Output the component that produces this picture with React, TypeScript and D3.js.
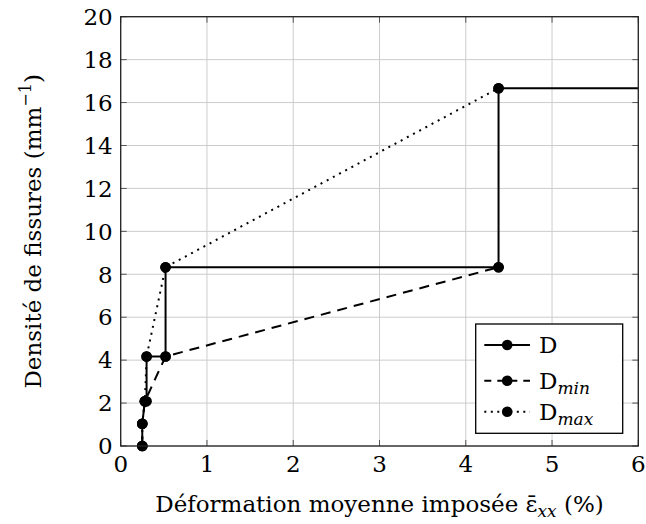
import React from "react";
import * as d3 from "d3";

const xTicks = [0, 1, 2, 3, 4, 5, 6];
const yTicks = [0, 2, 4, 6, 8, 10, 12, 14, 16, 18, 20];

const dX = [0.25, 0.25, 0.28, 0.3, 0.3, 0.52, 0.52, 4.38, 4.38, 6.2];
const dY = [0, 1.04, 2.08, 2.08, 4.17, 4.17, 8.33, 8.33, 16.67, 16.67];

const dminX = [0.25, 0.25, 0.28, 0.52, 4.38];
const dminY = [0, 1.04, 2.08, 4.17, 8.33];

const dmaxX = [0.25, 0.25, 0.28, 0.3, 0.52, 4.38];
const dmaxY = [0, 1.04, 2.08, 4.17, 8.33, 16.67];

const W = 646, H = 524;
const left = 120.7, right = 638.3, top = 16.7, bottom = 446;
const FONT = "DejaVu Serif";
const FS = 23;

export default function App() {
  const x = d3.scaleLinear().domain([0, 6]).range([left, right]);
  const y = d3.scaleLinear().domain([0, 20]).range([bottom, top]);
  const line = d3.line<[number, number]>().x(d => x(d[0])).y(d => y(d[1]));
  const zip = (a: number[], b: number[]) => a.map((v, i) => [v, b[i]] as [number, number]);
  const series = [
    { pts: zip(dX, dY), dash: "none", w: 2 },
    { pts: zip(dminX, dminY), dash: "10,7", w: 2 },
    { pts: zip(dmaxX, dmaxY), dash: "2,5", w: 2 },
  ];
  const legendRows = [
    { sub: "", dash: "none", y: 345 },
    { sub: "min", dash: "7,6", y: 380.7 },
    { sub: "max", dash: "2,4.5", y: 411.7 },
  ];
  return (
    <svg width={W} height={H} style={{ position: "absolute", left: 0, top: 0 }} fontFamily={FONT}>
      <defs>
        <clipPath id="clip"><rect x={left} y={top} width={right - left} height={bottom - top} /></clipPath>
      </defs>
      {xTicks.map(t => (
        <line key={"gx" + t} x1={x(t)} x2={x(t)} y1={top} y2={bottom} stroke="#cccccc" strokeWidth={1} />
      ))}
      {yTicks.map(t => (
        <line key={"gy" + t} x1={left} x2={right} y1={y(t)} y2={y(t)} stroke="#cccccc" strokeWidth={1} />
      ))}
      {xTicks.map(t => (
        <g key={"tx" + t}>
          <line x1={x(t)} x2={x(t)} y1={bottom} y2={bottom - 6} stroke="#555" strokeWidth={1} />
          <line x1={x(t)} x2={x(t)} y1={top} y2={top + 6} stroke="#555" strokeWidth={1} />
          <text x={x(t)} y={472} textAnchor="middle" fontSize={FS}>{t}</text>
        </g>
      ))}
      {yTicks.map(t => (
        <g key={"ty" + t}>
          <line x1={left} x2={left + 6} y1={y(t)} y2={y(t)} stroke="#555" strokeWidth={1} />
          <line x1={right} x2={right - 6} y1={y(t)} y2={y(t)} stroke="#555" strokeWidth={1} />
          <text x={left - 8} y={y(t)} dy="0.36em" textAnchor="end" fontSize={FS}>{t}</text>
        </g>
      ))}
      <g clipPath="url(#clip)">
        {series.map((s, i) => (
          <path key={"s" + i} d={line(s.pts) || ""} fill="none" stroke="#000" strokeWidth={s.w} strokeDasharray={s.dash} />
        ))}
      </g>
      {series.map((s, i) => (
        <g key={"m" + i}>
          {s.pts.filter(p => p[0] <= 6).map((p, j) => (
            <circle key={j} cx={x(p[0])} cy={y(p[1])} r={5.3} fill="#000" />
          ))}
        </g>
      ))}
      <rect x={left} y={top} width={right - left} height={bottom - top} fill="none" stroke="#222" strokeWidth={1.3} />
      <g>
        <rect x={475.7} y={324} width={147} height={109.3} fill="#fff" stroke="#000" strokeWidth={1.3} />
        {legendRows.map((r, i) => (
          <g key={"l" + i}>
            <line x1={484.3} x2={530} y1={r.y} y2={r.y} stroke="#000" strokeWidth={2} strokeDasharray={r.dash} />
            <circle cx={507.2} cy={r.y} r={5.3} fill="#000" />
            <text x={539} y={r.y} dy="0.36em" fontSize={FS}>D{r.sub ? <tspan fontStyle="italic" fontSize={17} dy="5">{r.sub}</tspan> : null}</text>
          </g>
        ))}
      </g>
      <text x={(left + right) / 2} y={512} textAnchor="middle" fontSize={FS}>
        Déformation moyenne imposée ε̄<tspan fontStyle="italic" fontSize={17} dy="5">xx</tspan><tspan dy="-5"> (%)</tspan>
      </text>
      <text transform={`translate(41,${(top + bottom) / 2}) rotate(-90)`} textAnchor="middle" fontSize={FS}>
        Densité de fissures (mm<tspan fontSize={16} dy="-10">−1</tspan><tspan dy="10">)</tspan>
      </text>
    </svg>
  );
}
